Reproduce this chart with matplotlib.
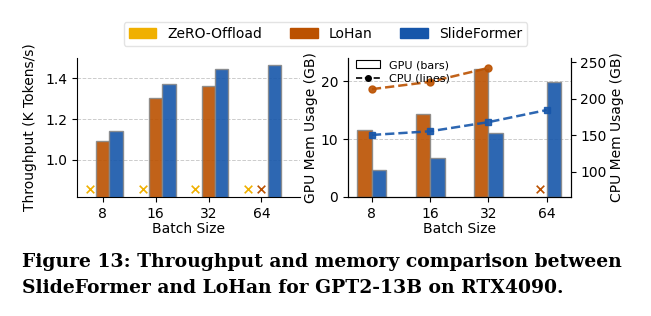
import matplotlib
matplotlib.use("Agg")
import matplotlib.pyplot as plt
from matplotlib.patches import Patch
from matplotlib.lines import Line2D
import numpy as np

batch_sizes = ["8", "16", "32", "64"]
# Throughput (K tokens/s); None = OOM (marked with x)
thr_zero = [None, None, None, None]
thr_lohan = [1.09, 1.305, 1.36, None]
thr_slide = [1.14, 1.37, 1.445, 1.465]
# GPU memory (GB)
gpu_lohan = [11.5, 14.3, 22.1, None]
gpu_slide = [4.7, 6.7, 11.1, 19.9]
# CPU memory (GB)
cpu_lohan = [213, 223, 242, None]
cpu_slide = [150.5, 155.5, 168, 184.5]

c_zero = "#F0B000"
c_lohan = "#BB5100"
c_slide = "#1656AA"

plt.rcParams["font.family"] = ["DejaVu Sans"]
fig = plt.figure(figsize=(6.51, 3.16), dpi=100)

x = np.arange(len(batch_sizes))

# ---- left: throughput
ax1 = fig.add_axes([77/651, 1-197/316, (300-77)/651, (197-58)/316])
w = 0.25
oom_y1 = 0.855
for i in range(len(x)):
    if thr_zero[i] is None:
        ax1.scatter(x[i]-w, oom_y1, marker="x", color=c_zero, s=30, linewidths=1.2, zorder=3)
    if thr_lohan[i] is None:
        ax1.scatter(x[i], oom_y1, marker="x", color=c_lohan, s=30, linewidths=1.2, zorder=3)
    else:
        ax1.bar(x[i], thr_lohan[i], w, color=c_lohan, alpha=0.9, edgecolor="#888888", linewidth=1, zorder=2)
    if thr_slide[i] is not None:
        ax1.bar(x[i]+w, thr_slide[i], w, color=c_slide, alpha=0.9, edgecolor="#888888", linewidth=1, zorder=2)
ax1.set_ylim(0.817, 1.5)
ax1.set_xlim(-0.49, 3.73)
ax1.set_xticks(x + 0.0)
ax1.set_xticklabels(batch_sizes)
ax1.set_yticks([1.0, 1.2, 1.4])
ax1.set_ylabel("Throughput (K Tokens/s)", fontsize=10, labelpad=6)
ax1.set_xlabel("Batch Size", fontsize=10, labelpad=1)
ax1.tick_params(labelsize=10)
ax1.yaxis.grid(True, linestyle="--", color="#cccccc", linewidth=0.7)
ax1.set_axisbelow(True)
ax1.spines["top"].set_visible(False)
ax1.spines["right"].set_visible(False)

# ---- right: memory
ax2 = fig.add_axes([348/651, 1-197/316, (570.7-348)/651, (197-58)/316])
w2 = 0.25
for i in range(len(x)):
    if gpu_lohan[i] is not None:
        ax2.bar(x[i]-w2/2, gpu_lohan[i], w2, color=c_lohan, alpha=0.9, edgecolor="#888888", linewidth=1, zorder=2)
    if gpu_slide[i] is not None:
        ax2.bar(x[i]+w2/2, gpu_slide[i], w2, color=c_slide, alpha=0.9, edgecolor="#888888", linewidth=1, zorder=2)
ax2.set_ylim(0, 24)
ax2.set_xlim(-0.41, 3.41)
ax2.set_xticks(x)
ax2.set_xticklabels(batch_sizes)
ax2.set_yticks([0, 10, 20])
ax2.set_ylabel("GPU Mem Usage (GB)", fontsize=10, labelpad=2)
ax2.set_xlabel("Batch Size", fontsize=10, labelpad=1)
ax2.tick_params(labelsize=10)
ax2.yaxis.grid(True, linestyle="--", color="#cccccc", linewidth=0.7)
ax2.set_axisbelow(True)
ax2.spines["top"].set_visible(False)

ax3 = ax2.twinx()
ax3.set_ylim(65.8, 255.5)
lx = [xi for xi, v in zip(x, cpu_lohan) if v is not None]
ly = [v for v in cpu_lohan if v is not None]
ax3.plot(lx, ly, "--", color=c_lohan, marker="o", markersize=5, linewidth=1.8, alpha=0.9)
ax3.plot(x, cpu_slide, "--", color=c_slide, marker="s", markersize=5, linewidth=1.8, alpha=0.9)
for i in range(len(x)):
    if cpu_lohan[i] is None:
        ax3.scatter(x[i]-w2/2, 76.8, marker="x", color=c_lohan, s=30, linewidths=1.2, zorder=3)
ax3.set_yticks([100, 150, 200, 250])
ax3.set_ylabel("CPU Mem Usage (GB)", fontsize=10, labelpad=2)
ax3.tick_params(labelsize=10)
ax3.spines["top"].set_visible(False)

inner = [Patch(facecolor="white", edgecolor="black", linewidth=0.8, label="GPU (bars)"),
         Line2D([0], [0], color="black", linestyle="--", marker="o", markersize=4, linewidth=1.2, label="CPU (lines)")]
ax3.legend(handles=inner, loc="upper left", fontsize=8, frameon=False,
           bbox_to_anchor=(0.0, 1.04), handlelength=2.2, labelspacing=0.3, borderpad=0.2)

handles = [Patch(color=c_zero, label="ZeRO-Offload"),
           Patch(color=c_lohan, label="LoHan"),
           Patch(color=c_slide, label="SlideFormer")]
fig.legend(handles=handles, loc="center", bbox_to_anchor=(325.5/651, 1-34/316), ncol=3,
           fontsize=10, frameon=True, handlelength=2.0, columnspacing=2.0, borderpad=0.35,
           edgecolor="#dddddd", fancybox=True)

cap = ("Figure 13: Throughput and memory comparison between\n"
       "SlideFormer and LoHan for GPT2-13B on RTX4090.")
fig.text(22/651, 1-253/316, cap, family="DejaVu Serif", fontweight="bold", fontsize=13.5,
         va="top", ha="left", linespacing=1.55)

fig.savefig("out.png", dpi=100)
